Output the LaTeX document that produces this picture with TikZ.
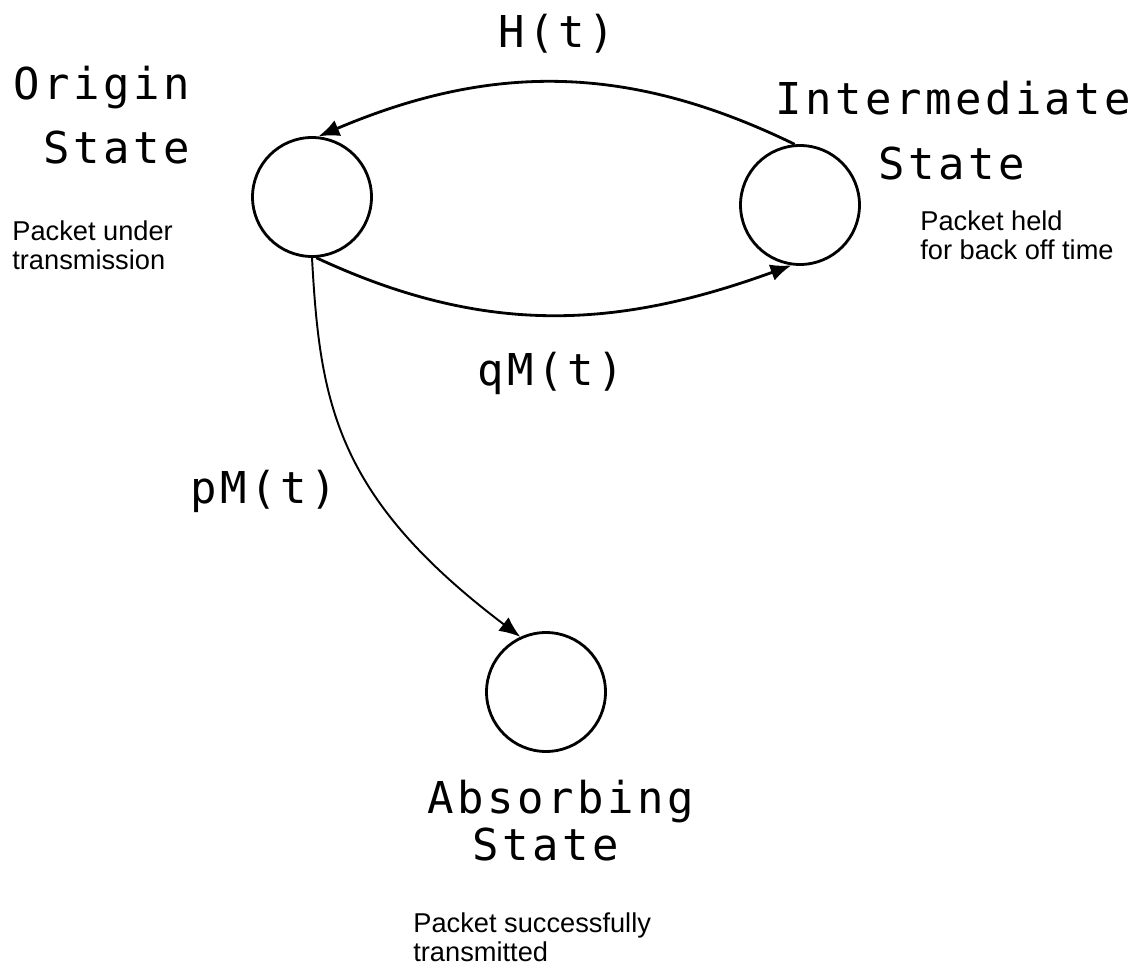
\documentclass[tikz,border=0pt]{standalone}
\usepackage{fontspec}
\setmainfont{Liberation Sans}
\newfontfamily\plotfont[LetterSpace=8]{DejaVu Sans Mono}
\usetikzlibrary{arrows.meta}

\begin{document}
\begin{tikzpicture}[
    x=0.02cm,
    y=0.02cm,
    state/.style={
        circle,
        draw,
        line width=1.6pt,
        minimum size=2.38cm,
        inner sep=0pt
    },
    arrow/.style={
        -{Latex[length=4.2mm,width=3.4mm]},
        line width=1.6pt
    },
    title/.style={
        font=\plotfont\fontsize{25}{29}\selectfont,
        anchor=base west,
        inner sep=0pt
    },
    note/.style={
        font=\fontsize{15.5}{17}\selectfont,
        align=left,
        anchor=north west,
        inner sep=0pt
    }
]
\useasboundingbox (0,0) rectangle (1148,967);

% States
\node [state] (origin) at (312,770) {};
\node [state] (inter) at (800,762) {};
\node [state] (absorb) at (546,275) {};

% Transitions
\draw [arrow] (inter.95) to[out=154,in=23] (origin.84);
\draw [arrow] (origin.274) to[out=-25,in=200] (inter.262);
\draw [arrow, line width=1.1pt] (origin.south)
    .. controls +(8,-145) and +(-185,140) .. (absorb.115);

% Rates
\node [title] (hrate) at (498,919) {H(t)};
\node [title] (qrate) at (477,581) {qM(t)};
\node [title] (prate) at (190,463) {pM(t)};

% State names
\node [title] (originA) at (13,867) {Origin};
\node [title] (originB) at (43,803) {State};
\node [title] (interA) at (775,852) {Intermediate};
\node [title] (interB) at (878,787) {State};
\node [title] (absorbA) at (427,154) {Absorbing};
\node [title] (absorbB) at (472,107) {State};

% Annotations
\node [note] (originnote) at (12,747) {Packet under\\transmission};
\node [note] (internote) at (920,757) {Packet held\\for back off time};
\node [note] (absorbnote) at (413,55) {Packet successfully\\transmitted};

\end{tikzpicture}
\end{document}
